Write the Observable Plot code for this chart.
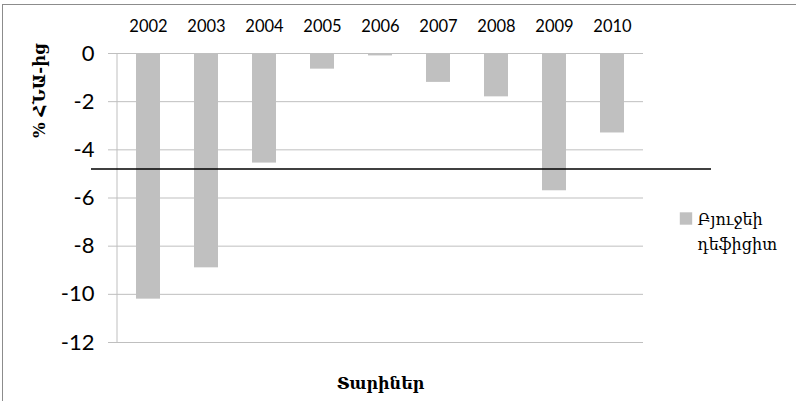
<!DOCTYPE html>
<html>
<head>
<meta charset="utf-8">
<script src="https://cdn.jsdelivr.net/npm/d3@7"></script>
<script src="https://cdn.jsdelivr.net/npm/@observablehq/plot@0.6"></script>
<style>
  html, body { margin: 0; padding: 0; background: white; }
  #wrap { position: relative; width: 796px; height: 401px; overflow: hidden; background: white; }
  #border { position: absolute; left: 2px; top: 4px; width: 820px; height: 420px; border: 1px solid #8c8c8c; pointer-events: none; }
  #wrap svg { display: block; }
</style>
</head>
<body>
<div id="wrap"><div id="border"></div></div>
<script>
const years = ["2002", "2003", "2004", "2005", "2006", "2007", "2008", "2009", "2010"];
const deficit = [-10.2, -8.9, -4.55, -0.65, -0.1, -1.2, -1.8, -5.7, -3.3];
const threshold = -4.8;
const yTicks = [0, -2, -4, -6, -8, -10, -12];
const seriesName = "Բյուջեի\nդեֆիցիտ";
const yTitle = "% ՀՆԱ-ից";
const xTitle = "Տարիներ";

const data = years.map((y, i) => ({year: y, value: deficit[i]}));
const barColor = "#c0c0c0";
const gridColor = "#bfbfbf";
const armFont = "DejaVu Serif";

const axisLine = (index, scales, values, dims) => {
  const ns = "http://www.w3.org/2000/svg";
  const l = document.createElementNS(ns, "line");
  l.setAttribute("x1", dims.marginLeft);
  l.setAttribute("x2", dims.marginLeft);
  l.setAttribute("y1", dims.marginTop);
  l.setAttribute("y2", dims.height - dims.marginBottom);
  l.setAttribute("stroke", gridColor);
  return l;
};

const chart = Plot.plot({
  width: 796,
  height: 401,
  marginLeft: 117,
  marginRight: 153,
  marginTop: 53,
  marginBottom: 59,
  style: {fontFamily: "Lato", background: "white", color: "black"},
  x: {domain: years, paddingInner: 0.59, paddingOuter: 0.295},
  y: {domain: [-12, 0]},
  marks: [
    Plot.ruleY(yTicks, {stroke: gridColor, strokeWidth: 1}),
    axisLine,
    Plot.barY(data, {x: "year", y: "value", fill: barColor}),
    Plot.ruleY([threshold], {stroke: "black", strokeWidth: 1.5, insetLeft: -26, insetRight: -68}),
    Plot.axisY({ticks: yTicks, tickSize: 9, tickPadding: 14, stroke: gridColor, fill: "black", fontSize: 22, tickFormat: d => String(d), label: null}),
    Plot.axisX({anchor: "top", tickSize: 0, tickPadding: 22, fontSize: 16.5, fill: "black", label: null}),
    Plot.text([yTitle], {text: d => d, frameAnchor: "top-left", dx: -78, dy: 37, rotate: -90, textAnchor: "middle", lineAnchor: "middle", fontWeight: "bold", fontFamily: armFont, fontSize: 16.5, fill: "black"}),
    Plot.text([xTitle], {text: d => d, frameAnchor: "bottom", dy: 46, fontWeight: "bold", fontFamily: armFont, fontSize: 16, fill: "black"}),
    Plot.dot([seriesName], {frameAnchor: "top-right", dx: 42.5, dy: 165, symbol: "square", r: 7, fill: barColor, stroke: null}),
    Plot.text([seriesName], {text: d => d, frameAnchor: "top-right", dx: 54, dy: 153, textAnchor: "start", lineAnchor: "top", lineHeight: 1.6, fontFamily: armFont, fontSize: 16, fill: "black"})
  ]
});
document.getElementById("wrap").insertBefore(chart, document.getElementById("border"));
</script>
</body>
</html>
